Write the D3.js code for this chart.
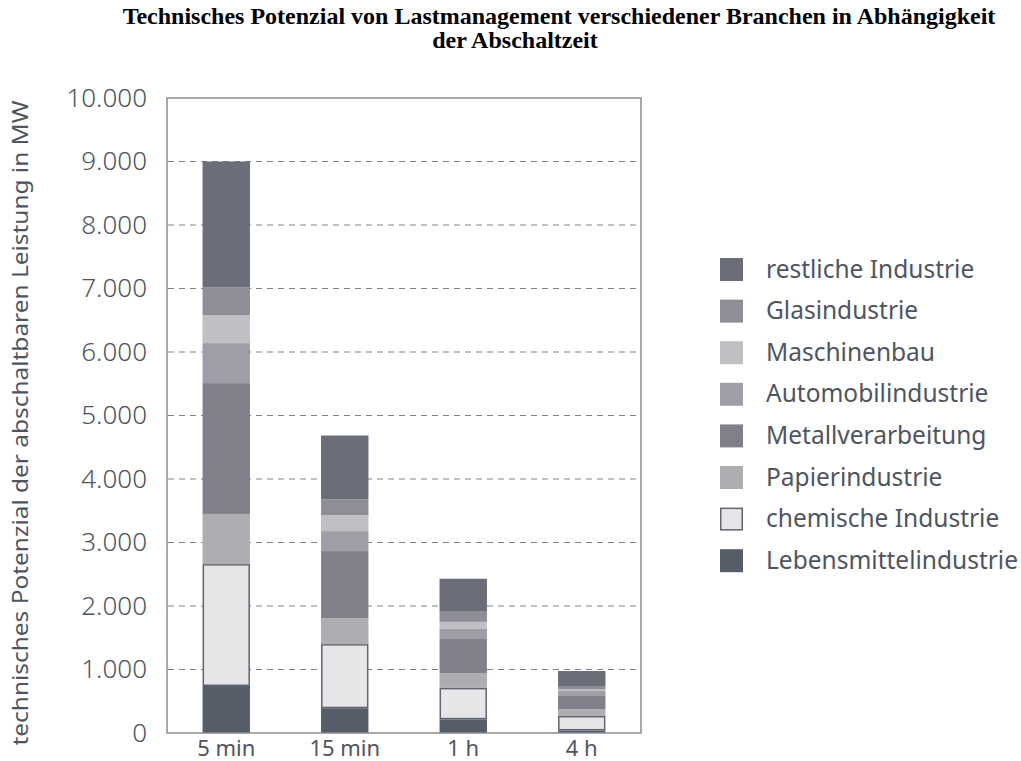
<!DOCTYPE html>
<html>
<head>
<meta charset="utf-8">
<script src="https://cdn.jsdelivr.net/npm/d3@7"></script>
<style>
  body { margin: 0; background: #fff; }
  svg { display: block; }
</style>
</head>
<body>
<svg id="chart" width="1021" height="761"></svg>
<script>
// Abschaltzeiten
const categories = ["5 min", "15 min", "1 h", "4 h"];

// branches, bottom of stack first
const branches = ["Lebensmittelindustrie", "chemische Industrie", "Papierindustrie",
  "Metallverarbeitung", "Automobilindustrie", "Maschinenbau", "Glasindustrie", "restliche Industrie"];

// MW per branch, one value per category
const lebensmittel = [740, 390, 215, 40];
const chemie      = [1920, 1010, 495, 228];
const papier      = [790, 410, 230, 110];
const metall      = [2060, 1055, 540, 205];
const automobil   = [630, 315, 160, 78];
const maschinen   = [440, 250, 110, 32];
const glas        = [440, 250, 160, 47];
const restliche   = [1980, 1005, 520, 236];

const yTicks = [0, 1000, 2000, 3000, 4000, 5000, 6000, 7000, 8000, 9000, 10000];

const colors = {
  "Lebensmittelindustrie": "#555d68",
  "chemische Industrie": "#e6e6e8",
  "Papierindustrie": "#aeadb2",
  "Metallverarbeitung": "#80808a",
  "Automobilindustrie": "#9e9ea6",
  "Maschinenbau": "#c0bfc4",
  "Glasindustrie": "#8e8e96",
  "restliche Industrie": "#6b6d78"
};

const series = [lebensmittel, chemie, papier, metall, automobil, maschinen, glas, restliche];
const table = categories.map((c, i) => {
  const row = { cat: c };
  branches.forEach((b, j) => row[b] = series[j][i]);
  return row;
});

const svg = d3.select("#chart");
const fontSans = "'Noto Sans', 'Open Sans', sans-serif";
const textCol = "#4e5560";

const x = d3.scaleBand().domain(categories).range([167, 641]).paddingInner(0.6).paddingOuter(0.3);
const y = d3.scaleLinear().domain([0, 10000]).range([733, 98]);

// title, two lines
const titleStyle = sel => sel
  .attr("text-anchor", "middle")
  .style("font-family", "'Liberation Serif', 'Times New Roman', serif")
  .style("font-weight", "bold")
  .style("font-size", "24px")
  .attr("fill", "#000");
svg.append("text").call(titleStyle).attr("x", 559).attr("y", 24)
  .text("Technisches Potenzial von Lastmanagement verschiedener Branchen in Abhängigkeit");
svg.append("text").call(titleStyle).attr("x", 515).attr("y", 48)
  .text("der Abschaltzeit");

// grid
svg.append("g")
  .selectAll("line")
  .data(yTicks.filter(t => t > 0 && t < 10000))
  .join("line")
  .attr("x1", 168).attr("x2", 640)
  .attr("y1", d => y(d)).attr("y2", d => y(d))
  .attr("stroke", "#7e818b")
  .attr("stroke-width", 1.2)
  .attr("stroke-dasharray", "6,5");

// bars
const stack = d3.stack().keys(branches)(table);
svg.append("g")
  .selectAll("g")
  .data(stack)
  .join("g")
  .each(function(layer) {
    const key = layer.key;
    const isChem = key === "chemische Industrie";
    d3.select(this).selectAll("rect")
      .data(layer)
      .join("rect")
      .attr("x", d => x(d.data.cat) + (isChem ? 0.75 : 0))
      .attr("width", x.bandwidth() - (isChem ? 1.5 : 0))
      .attr("y", d => y(d[1]) + (isChem ? 0.75 : 0))
      .attr("height", d => Math.max(0, y(d[0]) - y(d[1]) - (isChem ? 1.5 : 0)))
      .attr("fill", colors[key])
      .attr("stroke", isChem ? "#5f6670" : "none")
      .attr("stroke-width", isChem ? 1.5 : 0);
  });

// frame
svg.append("rect")
  .attr("x", 167).attr("y", 98)
  .attr("width", 474).attr("height", 635)
  .attr("fill", "none")
  .attr("stroke", "#8a8d94")
  .attr("stroke-width", 1.5);

// y axis
const yAxis = svg.append("g")
  .attr("transform", "translate(167,0)")
  .call(d3.axisLeft(y).tickValues(yTicks).tickSize(0).tickPadding(20)
    .tickFormat(d => d3.format(",")(d).replace(/,/g, ".")));
yAxis.select(".domain").remove();
yAxis.selectAll("text")
  .style("font-family", fontSans)
  .style("font-size", "26px")
  .style("font-weight", "300")
  .attr("fill", textCol);

// x axis
const xAxis = svg.append("g")
  .attr("transform", "translate(0,733)")
  .call(d3.axisBottom(x).tickSize(0).tickPadding(7));
xAxis.select(".domain").remove();
xAxis.selectAll("text")
  .style("font-family", fontSans)
  .style("font-size", "22px")
  .attr("fill", textCol);

// y axis title
svg.append("text")
  .attr("transform", "translate(28,423) rotate(-90)")
  .attr("text-anchor", "middle")
  .attr("textLength", 645)
  .attr("lengthAdjust", "spacingAndGlyphs")
  .style("font-family", fontSans)
  .style("font-size", "22px")
  .attr("fill", textCol)
  .text("technisches Potenzial der abschaltbaren Leistung in MW");

// legend
const legend = svg.append("g");
const legendItems = branches.slice().reverse();
const li = legend.selectAll("g")
  .data(legendItems)
  .join("g")
  .attr("transform", (d, i) => `translate(720,${269 + i * 41.6})`);
li.append("rect")
  .attr("x", d => d === "chemische Industrie" ? 0.75 : 0)
  .attr("y", d => d === "chemische Industrie" ? -10.25 : -11)
  .attr("width", d => d === "chemische Industrie" ? 21.5 : 23)
  .attr("height", d => d === "chemische Industrie" ? 21.5 : 23)
  .attr("fill", d => colors[d])
  .attr("stroke", d => d === "chemische Industrie" ? "#5f6670" : "none")
  .attr("stroke-width", 1.5);
li.append("text")
  .attr("x", 46).attr("y", 0)
  .attr("dy", "0.35em")
  .style("font-family", fontSans)
  .style("font-size", "24.5px")
  .attr("fill", textCol)
  .text(d => d);
</script>
</body>
</html>
